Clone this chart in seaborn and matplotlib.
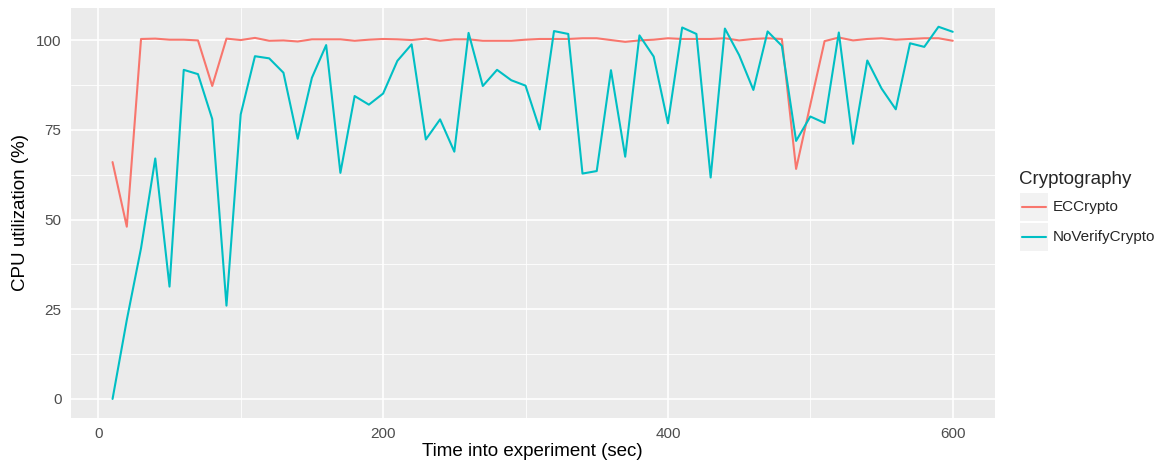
import numpy as np
import pandas as pd
import matplotlib
matplotlib.use('Agg')
import matplotlib.pyplot as plt
from matplotlib.patches import Rectangle
from matplotlib.lines import Line2D
import seaborn as sns

# Datos (cada 10 s)
time_sec = list(range(10, 610, 10))

ec_crypto = [66.0, 48.0, 100.3, 100.4, 100.1, 100.1, 99.9, 87.2, 100.4, 100.0,
             100.6, 99.8, 99.9, 99.6, 100.2, 100.2, 100.2, 99.8, 100.1, 100.3,
             100.2, 100.0, 100.4, 99.8, 100.2, 100.2, 99.8, 99.8, 99.8, 100.1,
             100.3, 100.3, 100.3, 100.5, 100.5, 100.0, 99.5, 99.9, 100.1, 100.5,
             100.3, 100.3, 100.3, 100.5, 99.9, 100.3, 100.5, 100.3, 64.1, 82.0,
             99.7, 100.7, 99.9, 100.3, 100.5, 100.1, 100.3, 100.5, 100.5, 99.8]

noverify_crypto = [0.0, 22.0, 42.0, 67.0, 31.3, 91.7, 90.5, 78.0, 26.0, 79.3,
                   95.5, 94.9, 90.9, 72.5, 89.5, 98.6, 63.0, 84.4, 82.0, 85.1,
                   94.2, 98.8, 72.3, 77.9, 68.9, 102.0, 87.2, 91.7, 88.8, 87.3,
                   75.1, 102.5, 101.7, 62.8, 63.5, 91.6, 67.5, 101.3, 95.4, 76.8,
                   103.5, 101.7, 61.7, 103.2, 95.8, 86.1, 102.4, 98.4, 71.9, 78.7,
                   76.9, 102.1, 71.1, 94.3, 86.5, 80.7, 99.1, 98.1, 103.7, 102.3]

series_names = ['ECCrypto', 'NoVerifyCrypto']
series_colors = ['#F8766D', '#00BFC4']

df = pd.DataFrame({
    'time': time_sec * 2,
    'cpu': ec_crypto + noverify_crypto,
    'Cryptography': [series_names[0]] * len(time_sec) + [series_names[1]] * len(time_sec),
})

sns.set_style('white')
plt.rcParams['font.family'] = ['Liberation Sans', 'DejaVu Sans']

fig = plt.figure(figsize=(11.64, 4.66), dpi=100)
ax = fig.add_axes([0.0606, 0.1039, 0.794, 0.8787])

sns.lineplot(data=df, x='time', y='cpu', hue='Cryptography',
             palette=dict(zip(series_names, series_colors)),
             linewidth=1.5, ax=ax, legend=False, zorder=3)

# Estilo tipo ggplot
ax.set_facecolor('#EBEBEB')
for s in ax.spines.values():
    s.set_visible(False)
ax.set_xlim(-19.5, 629.5)
ax.set_ylim(-5.19, 108.9)
ax.set_xticks([0, 200, 400, 600])
ax.set_yticks([0, 25, 50, 75, 100])
ax.set_xticks([100, 300, 500], minor=True)
ax.set_yticks([12.5, 37.5, 62.5, 87.5], minor=True)
ax.grid(which='major', color='white', linewidth=1.2, zorder=0)
ax.grid(which='minor', color='white', linewidth=0.6, zorder=0)
ax.set_axisbelow(True)
ax.tick_params(which='major', length=3.5, width=0.9, color='#333333',
               labelsize=11, labelcolor='#4D4D4D', pad=3)
ax.tick_params(which='minor', length=0)
ax.set_xlabel('Time into experiment (sec)', fontsize=13.5, color='black', labelpad=2)
ax.set_ylabel('CPU utilization (%)', fontsize=13.5, color='black', labelpad=5)

# Leyenda
fig.text(1019 / 1164, 1 - 180 / 466, 'Cryptography', fontsize=13.5,
         va='center', ha='left')
for i, (name, col) in enumerate(zip(series_names, series_colors)):
    yc = 1 - (207 + 30 * i) / 466
    fig.patches.append(Rectangle((1020 / 1164, yc - 14 / 466), 28 / 1164, 28 / 466,
                                 transform=fig.transFigure, facecolor='#F2F2F2',
                                 edgecolor='none'))
    fig.lines.append(Line2D([1022 / 1164, 1046 / 1164], [yc, yc],
                            transform=fig.transFigure, color=col, linewidth=1.5))
    fig.text(1053 / 1164, yc, name, fontsize=11, va='center', ha='left')

plt.savefig('out.png', dpi=100)
